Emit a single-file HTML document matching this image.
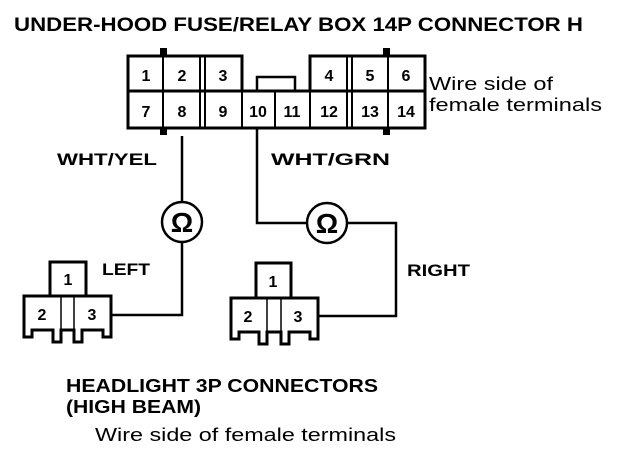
<!DOCTYPE html>
<html><head><meta charset="utf-8"><style>
html,body{margin:0;padding:0;background:#fff;}
svg{display:block;}
text{font-family:"Liberation Sans",sans-serif;fill:#000;}
.b{font-weight:bold;}
</style></head><body>
<svg width="624" height="462" viewBox="0 0 624 462" xmlns="http://www.w3.org/2000/svg">
<text class="b" x="14" y="31" font-size="19" textLength="569" lengthAdjust="spacingAndGlyphs">UNDER-HOOD FUSE/RELAY BOX 14P CONNECTOR H</text>

<g fill="none" stroke="#000" stroke-width="3">
  <path d="M128,56 H242 V91 H310 V56 H425 V128 H128 Z"/>
  <rect x="257" y="77" width="38" height="14" stroke-width="2.5"/>
  <line x1="128" y1="91" x2="425" y2="91"/>
</g>
<g stroke="#000" stroke-width="2">
  <line x1="163" y1="56" x2="163" y2="128"/>
  <line x1="200" y1="56" x2="200" y2="128"/>
  <line x1="205" y1="56" x2="205" y2="128"/>
  <line x1="242" y1="91" x2="242" y2="128"/>
  <line x1="275" y1="91" x2="275" y2="128"/>
  <line x1="310" y1="91" x2="310" y2="128"/>
  <line x1="347" y1="56" x2="347" y2="128"/>
  <line x1="352" y1="56" x2="352" y2="128"/>
  <line x1="388" y1="56" x2="388" y2="128"/>
</g>
<g fill="#000">
  <rect x="160" y="48" width="7" height="8"/>
  <rect x="160" y="128" width="7" height="7"/>
  <rect x="383" y="48" width="7" height="8"/>
  <rect x="383" y="128" width="7" height="7"/>
</g>
<g class="b" font-size="16" text-anchor="middle">
  <text x="146" y="81">1</text><text x="182" y="81">2</text><text x="223" y="81">3</text>
  <text x="329" y="81">4</text><text x="370" y="81">5</text><text x="406" y="81">6</text>
  <text x="146" y="117">7</text><text x="182" y="117">8</text><text x="223" y="117">9</text>
  <text x="258" y="117">10</text><text x="292" y="117">11</text><text x="329" y="117">12</text>
  <text x="370" y="117">13</text><text x="406" y="117">14</text>
</g>
<text x="429" y="90" font-size="18" textLength="124" lengthAdjust="spacingAndGlyphs">Wire side of</text>
<text x="429" y="111" font-size="18" textLength="173" lengthAdjust="spacingAndGlyphs">female terminals</text>

<text class="b" x="57" y="165" font-size="17" textLength="100" lengthAdjust="spacingAndGlyphs">WHT/YEL</text>
<text class="b" x="271" y="165" font-size="17" textLength="119" lengthAdjust="spacingAndGlyphs">WHT/GRN</text>

<g fill="none" stroke="#000" stroke-width="2.5">
  <polyline points="182,136 182,202"/>
  <polyline points="182,242 182,315 111,315"/>
  <polyline points="257,128 257,223 307,223"/>
  <polyline points="347,223 396,223 396,316 318,316"/>
  <circle cx="182" cy="222" r="20"/>
  <circle cx="327" cy="223" r="20"/>
</g>
<text x="182" y="232" font-size="28" font-weight="bold" text-anchor="middle">Ω</text>
<text x="327" y="233" font-size="28" font-weight="bold" text-anchor="middle">Ω</text>

<g fill="none" stroke="#000" stroke-width="3">
  <rect x="50" y="262" width="36" height="34"/>
  <path d="M24,296 H111 V337 H103 V330 H82 V342 H74 V330 H61 V342 H53 V330 H32 V337 H24 Z"/>
</g>
<g stroke="#000" stroke-width="1.5">
  <line x1="61" y1="296" x2="61" y2="330"/>
  <line x1="74" y1="296" x2="74" y2="330"/>
</g>
<g class="b" font-size="16" text-anchor="middle">
  <text x="68" y="285">1</text><text x="42" y="320">2</text><text x="92" y="320">3</text>
</g>
<text class="b" x="102" y="275" font-size="17" textLength="48" lengthAdjust="spacingAndGlyphs">LEFT</text>

<g fill="none" stroke="#000" stroke-width="3">
  <rect x="256" y="263" width="35" height="35"/>
  <path d="M231,298 H318 V339 H310 V332 H289 V344 H281 V332 H267 V344 H259 V332 H239 V339 H231 Z"/>
</g>
<g stroke="#000" stroke-width="1.5">
  <line x1="267" y1="298" x2="267" y2="332"/>
  <line x1="281" y1="298" x2="281" y2="332"/>
</g>
<g class="b" font-size="16" text-anchor="middle">
  <text x="273" y="287">1</text><text x="248" y="322">2</text><text x="298" y="322">3</text>
</g>
<text class="b" x="407" y="276" font-size="17" textLength="63" lengthAdjust="spacingAndGlyphs">RIGHT</text>

<text class="b" x="66" y="392" font-size="18" textLength="312" lengthAdjust="spacingAndGlyphs">HEADLIGHT 3P CONNECTORS</text>
<text class="b" x="66" y="413" font-size="18" textLength="135" lengthAdjust="spacingAndGlyphs">(HIGH BEAM)</text>
<text x="95" y="441" font-size="18" textLength="301" lengthAdjust="spacingAndGlyphs">Wire side of female terminals</text>
</svg>
</body></html>
